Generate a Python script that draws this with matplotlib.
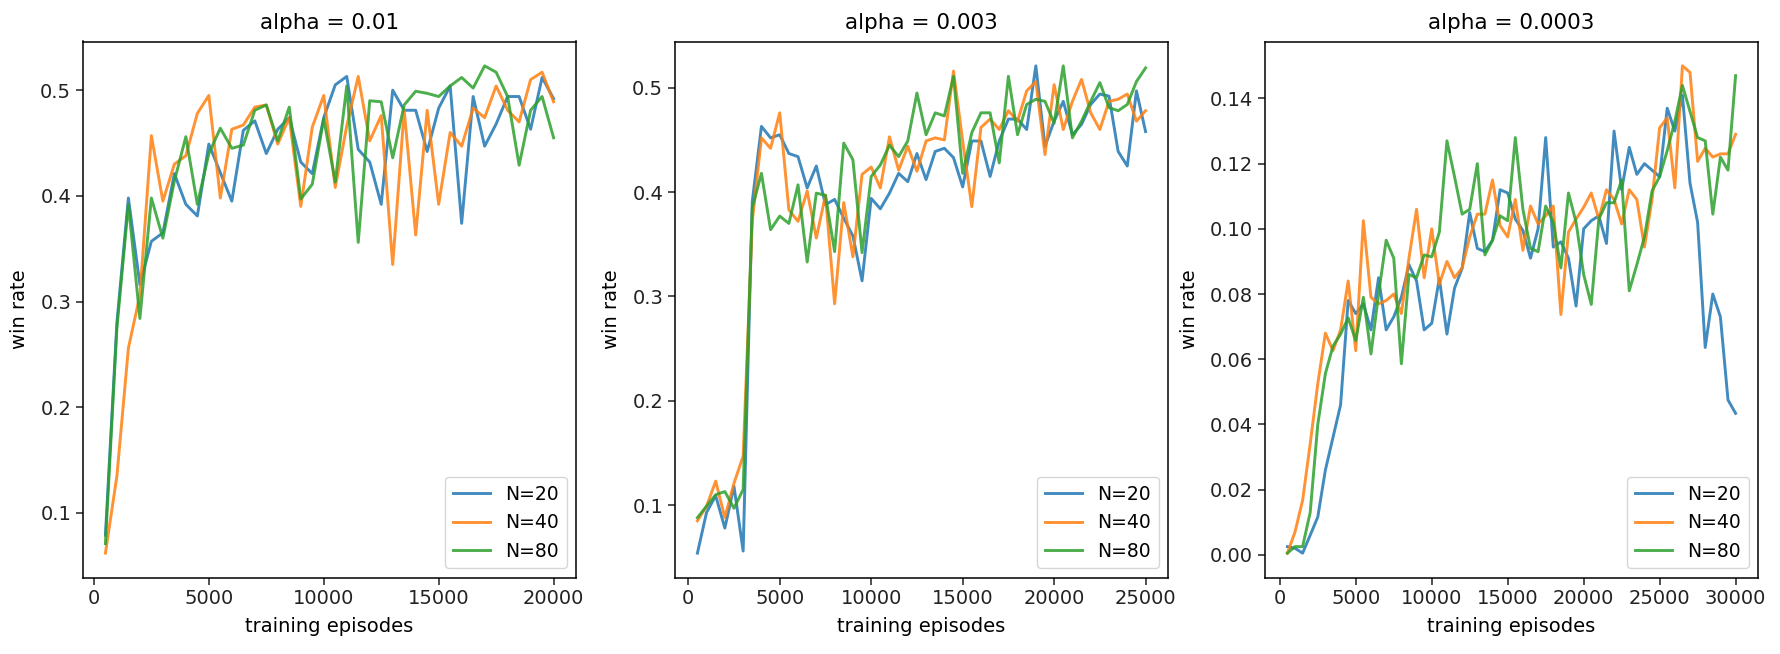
import numpy as np
import matplotlib
matplotlib.use("Agg")
import matplotlib.pyplot as plt

titles = ["alpha = 0.01", "alpha = 0.003", "alpha = 0.0003"]
labels = ["N=20", "N=40", "N=80"]
episodes1 = list(range(500, 20001, 500))
episodes2 = list(range(500, 25001, 500))
episodes3 = list(range(500, 30001, 500))

a1_n20 = [0.079, 0.28, 0.398, 0.316, 0.357, 0.365, 0.421, 0.392, 0.381, 0.449,
          0.422, 0.395, 0.462, 0.471, 0.440, 0.463, 0.474, 0.432, 0.421, 0.474,
          0.505, 0.513, 0.444, 0.432, 0.392, 0.500, 0.481, 0.481, 0.442, 0.483,
          0.504, 0.374, 0.494, 0.447, 0.468, 0.494, 0.494, 0.463, 0.512, 0.492]
a1_n40 = [0.062, 0.135, 0.256, 0.306, 0.457, 0.395, 0.430, 0.438, 0.478, 0.495,
          0.398, 0.463, 0.467, 0.484, 0.486, 0.449, 0.474, 0.390, 0.465, 0.495,
          0.408, 0.466, 0.513, 0.452, 0.476, 0.335, 0.481, 0.363, 0.481, 0.392,
          0.460, 0.447, 0.483, 0.474, 0.504, 0.481, 0.470, 0.510, 0.517, 0.489]
a1_n80 = [0.071, 0.275, 0.392, 0.284, 0.398, 0.360, 0.414, 0.456, 0.392, 0.440,
          0.464, 0.445, 0.448, 0.481, 0.486, 0.452, 0.484, 0.397, 0.411, 0.473,
          0.413, 0.504, 0.356, 0.490, 0.489, 0.436, 0.486, 0.499, 0.497, 0.494,
          0.504, 0.512, 0.502, 0.523, 0.517, 0.494, 0.429, 0.481, 0.494, 0.455]

a2_n20 = [0.054, 0.093, 0.109, 0.078, 0.118, 0.056, 0.391, 0.463, 0.452, 0.455,
          0.437, 0.434, 0.404, 0.425, 0.388, 0.393, 0.375, 0.358, 0.315, 0.394,
          0.384, 0.399, 0.418, 0.410, 0.437, 0.412, 0.439, 0.442, 0.433, 0.405,
          0.449, 0.449, 0.415, 0.449, 0.470, 0.470, 0.460, 0.521, 0.444, 0.468,
          0.487, 0.455, 0.465, 0.484, 0.494, 0.492, 0.439, 0.425, 0.497, 0.458]
a2_n40 = [0.085, 0.099, 0.123, 0.088, 0.121, 0.147, 0.372, 0.452, 0.442, 0.476,
          0.383, 0.372, 0.401, 0.356, 0.397, 0.293, 0.390, 0.338, 0.417, 0.424,
          0.404, 0.453, 0.421, 0.444, 0.420, 0.449, 0.452, 0.450, 0.516, 0.449,
          0.386, 0.462, 0.470, 0.460, 0.478, 0.468, 0.497, 0.506, 0.436, 0.503,
          0.460, 0.487, 0.508, 0.476, 0.460, 0.487, 0.489, 0.494, 0.468, 0.478]
a2_n80 = [0.088, 0.099, 0.110, 0.113, 0.097, 0.115, 0.385, 0.418, 0.364, 0.377,
          0.370, 0.407, 0.333, 0.399, 0.397, 0.343, 0.447, 0.431, 0.342, 0.415,
          0.426, 0.445, 0.434, 0.449, 0.495, 0.455, 0.476, 0.473, 0.511, 0.418,
          0.457, 0.476, 0.476, 0.428, 0.511, 0.455, 0.484, 0.489, 0.487, 0.466,
          0.521, 0.452, 0.468, 0.487, 0.505, 0.481, 0.478, 0.484, 0.506, 0.519]

a3_n20 = [0.0025, 0.002, 0.0005, 0.006, 0.0116, 0.026, 0.036, 0.046, 0.078, 0.074,
          0.077, 0.069, 0.085, 0.069, 0.073, 0.079, 0.089, 0.084, 0.069, 0.071,
          0.0848, 0.0677, 0.0818, 0.0879, 0.105, 0.094, 0.093, 0.0965, 0.112, 0.111,
          0.103, 0.0995, 0.091, 0.100, 0.128, 0.0944, 0.096, 0.091, 0.0763, 0.100,
          0.1025, 0.104, 0.0955, 0.130, 0.112, 0.125, 0.1167, 0.120, 0.118, 0.116,
          0.137, 0.130, 0.141, 0.114, 0.102, 0.0636, 0.080, 0.073, 0.0475, 0.0434]
a3_n40 = [0.0005, 0.007, 0.0167, 0.034, 0.0525, 0.068, 0.0626, 0.069, 0.084, 0.0626,
          0.1025, 0.079, 0.077, 0.078, 0.080, 0.074, 0.091, 0.106, 0.085, 0.100,
          0.083, 0.090, 0.085, 0.088, 0.0975, 0.1045, 0.1045, 0.115, 0.101, 0.0975,
          0.109, 0.0934, 0.107, 0.1015, 0.104, 0.107, 0.0737, 0.099, 0.103, 0.1066,
          0.111, 0.103, 0.112, 0.109, 0.1015, 0.112, 0.109, 0.0944, 0.109, 0.131,
          0.134, 0.1126, 0.150, 0.148, 0.1207, 0.1247, 0.122, 0.123, 0.123, 0.129]
a3_n80 = [0.0005, 0.0025, 0.0025, 0.013, 0.040, 0.0556, 0.064, 0.0677, 0.0727, 0.0657,
          0.079, 0.0616, 0.080, 0.0965, 0.091, 0.0586, 0.086, 0.085, 0.092, 0.0914,
          0.099, 0.127, 0.116, 0.1045, 0.106, 0.120, 0.092, 0.0965, 0.104, 0.1025,
          0.128, 0.106, 0.094, 0.093, 0.107, 0.102, 0.088, 0.111, 0.102, 0.086,
          0.0768, 0.103, 0.108, 0.108, 0.115, 0.081, 0.089, 0.0975, 0.1116, 0.116,
          0.124, 0.133, 0.144, 0.136, 0.128, 0.127, 0.1045, 0.122, 0.118, 0.147]

panels = [
    (episodes1, [a1_n20, a1_n40, a1_n80], [0, 5000, 10000, 15000, 20000], "%.1f"),
    (episodes2, [a2_n20, a2_n40, a2_n80], [0, 5000, 10000, 15000, 20000, 25000], "%.1f"),
    (episodes3, [a3_n20, a3_n40, a3_n80], [0, 5000, 10000, 15000, 20000, 25000, 30000], "%.2f"),
]
colors = ["#1f77b4", "#ff7f0e", "#2ca02c"]

fig = plt.figure(figsize=(17.8, 6.54), dpi=100)
lefts = [83, 675, 1265]
for i, (x, series, xt, fmt) in enumerate(panels):
    ax = fig.add_axes([lefts[i] / 1780, 76.5 / 654, 493 / 1780, 536 / 654])
    for s, lab, c in zip(series, labels, colors):
        ax.plot(x, s, color=c, alpha=0.85, lw=2.1, label=lab)
    ax.set_xticks(xt)
    ax.yaxis.set_major_formatter(matplotlib.ticker.FormatStrFormatter(fmt))
    ax.tick_params(labelsize=14, length=5, width=1.1, colors="#222222")
    for sp in ax.spines.values():
        sp.set_linewidth(1.1)
    ax.set_title(titles[i], fontsize=15.5, pad=9)
    ax.set_xlabel("training episodes", fontsize=14, labelpad=6.5)
    ax.set_ylabel("win rate", fontsize=14, labelpad=8)
    ax.legend(loc="lower right", fontsize=13.5)

fig.savefig("out.png", dpi=100)
